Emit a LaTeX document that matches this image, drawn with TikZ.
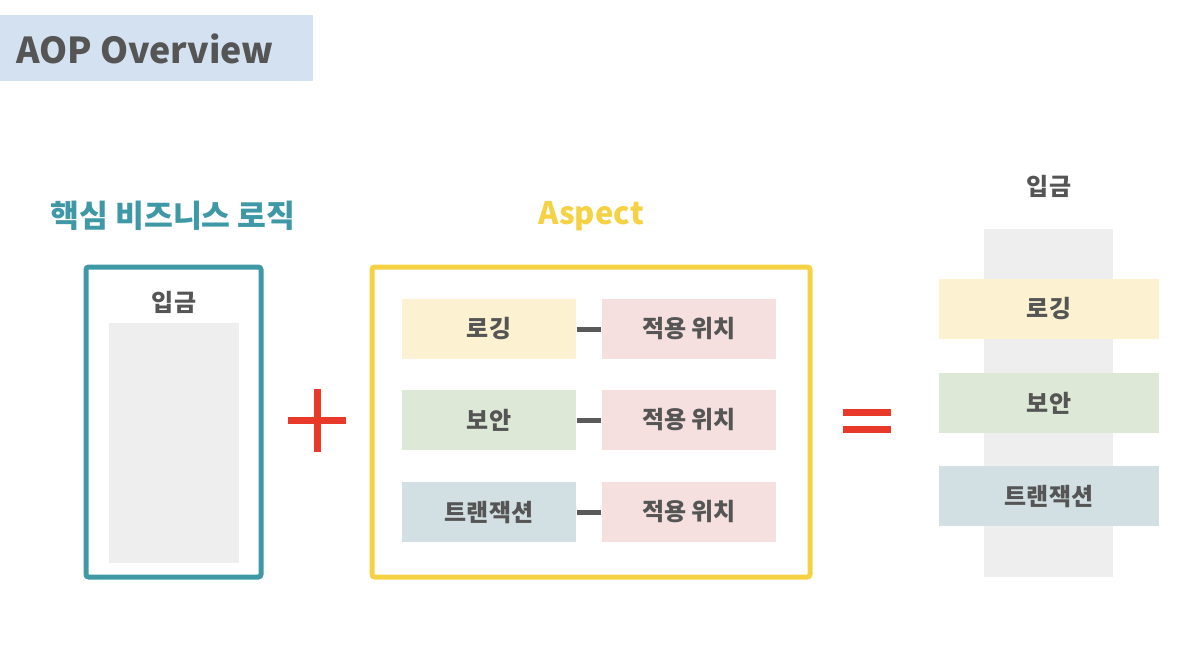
\documentclass[tikz,border=0pt]{standalone}
\usepackage{fontspec}
\setmainfont{Noto Sans CJK KR}
\definecolor{titlebg}{HTML}{D3E1F1}
\definecolor{txt}{HTML}{555555}
\definecolor{teal}{HTML}{3F98A6}
\definecolor{ygold}{HTML}{F5D244}
\definecolor{redc}{HTML}{E8392A}
\definecolor{colgray}{HTML}{EEEEEE}
\definecolor{fy}{HTML}{FCF1D0}
\definecolor{fg}{HTML}{DDE9D6}
\definecolor{fb}{HTML}{D3E0E3}
\definecolor{fp}{HTML}{F6DFDF}
\definecolor{dashc}{HTML}{5A5A5A}
\tikzset{
  lbl/.style={font=\bfseries\fontsize{18}{22}\selectfont, text=txt},
  rowbox/.style={minimum width=131pt, minimum height=45pt, inner sep=0pt, lbl},
  rbox/.style={minimum width=165pt, minimum height=45pt, inner sep=0pt, lbl},
  dashline/.style={draw=dashc, line width=3.75pt},
}
\begin{document}
\begin{tikzpicture}[x=0.75pt,y=-0.75pt]
\useasboundingbox (0,0) rectangle (1194,654);
% title
\fill[titlebg] (0,15) rectangle (313,81);
\node[anchor=west, text=txt, font=\bfseries\fontsize{26.8}{30}\selectfont, inner sep=0pt] (title) at (16,49) {AOP Overview};
% left
\node[text=teal, font=\bfseries\fontsize{23.5}{28}\selectfont] (core) at (173,216) {핵심 비즈니스 로직};
\draw[teal, line width=3.75pt, rounded corners=2pt] (86,267) rectangle (261,577);
\node[lbl] (dep1) at (174,302) {입금};
\fill[colgray] (109,323) rectangle (239,563);
% plus
\fill[redc] (288,416.5) rectangle (346,423.5);
\fill[redc] (313.5,389) rectangle (320.5,452);
\coordinate (plus) at (317,420);
% aspect
\node[text=ygold, font=\bfseries\fontsize{23.2}{28}\selectfont] (asp) at (591,216) {Aspect};
\draw[ygold, line width=3.75pt, rounded corners=2pt] (372,267) rectangle (810,577);
\node[rowbox, fill=fy] (l1) at (489,329) {로깅};
\node[rowbox, fill=fp] (p1) at (689,329) {적용 위치};
\node[rowbox, fill=fg] (l2) at (489,420) {보안};
\node[rowbox, fill=fp] (p2) at (689,420) {적용 위치};
\node[rowbox, fill=fb] (l3) at (489,512) {트랜잭션};
\node[rowbox, fill=fp] (p3) at (689,512) {적용 위치};
\draw[dashline] (l1.east) -- (p1.west);
\draw[dashline] (l2.east) -- (p2.west);
\draw[dashline] (l3.east) -- (p3.west);
% equal
\fill[redc] (843,409) rectangle (891,415.5);
\fill[redc] (843,426) rectangle (891,432.5);
% right
\node[lbl] (dep2) at (1049,186) {입금};
\fill[colgray] (984,229) rectangle (1113,577);
\node[rbox, fill=fy] (r1) at (1049,309) {로깅};
\node[rbox, fill=fg] (r2) at (1049,403) {보안};
\node[rbox, fill=fb] (r3) at (1049,496) {트랜잭션};
\end{tikzpicture}
\end{document}
